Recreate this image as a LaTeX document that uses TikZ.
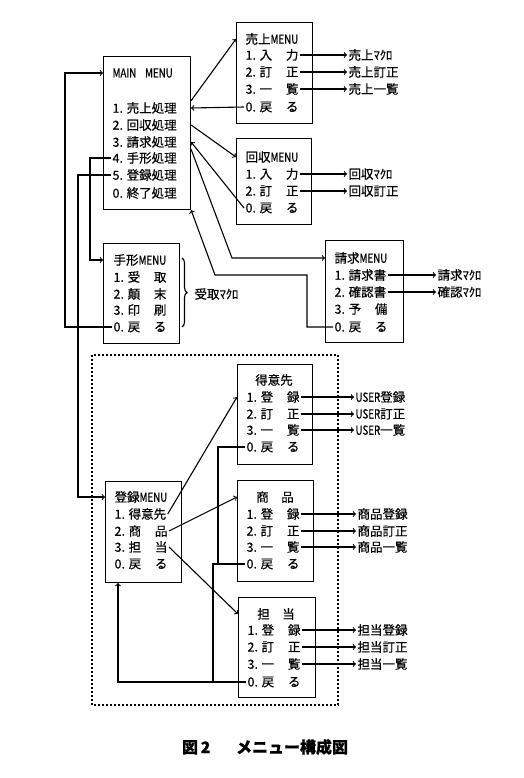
\documentclass[tikz,border=0pt]{standalone}
\usepackage{fontspec}
\setmainfont{Noto Sans CJK JP}[FakeBold=0.5]
\usepackage{graphicx}
\usepackage{tikz}
\usetikzlibrary{decorations.pathreplacing}
\tikzset{
Boite/.style={
 draw=black, 
 anchor=north west, 
 inner sep=0pt
 },
Item/.style={
 anchor=west, 
 inner sep=1pt, 
 font=\fontsize{12.5}{15}\selectfont
 },
Titre/.style={
 Item, 
 anchor=center
 },
Sortie/.style={
 Item
 },
Fleche/.style={
 draw=black, 
 ->
 },
Tiret/.style={
 draw=black, 
 dash pattern=on 2pt off 2pt
 }
}
\newcommand{\Ecart}[2]{\makebox[3.1em][s]{#1\hfill#2}}
\newcommand{\Serre}[1]{\scalebox{0.78}[1]{#1}}

\begin{document}
\begin{tikzpicture}[line width=1.1pt,x=1pt,y=-1pt]
\useasboundingbox (0,0) rectangle (524,778);
% MAIN MENU
\node[Boite, minimum width=87pt, minimum height=153pt] (main) at (103,56) {};
\node[Item] (mainT) at (111,73) {\Serre{MAIN\hspace{0.9em}MENU}};
\node[Item] (main1) at (111,108) {1. 売上処理};
\node[Item] (main2) at (111,125) {2. 回収処理};
\node[Item] (main3) at (111,142) {3. 請求処理};
\node[Item] (main4) at (111,158) {4. 手形処理};
\node[Item] (main5) at (111,175) {5. 登録処理};
\node[Item] (main0) at (111,193) {0. 終了処理};
% 売上
\node[Boite, minimum width=76pt, minimum height=101pt] (uri) at (236,22) {};
\node[Item] (uriT) at (244,39) {売上\Serre{MENU}};
\node[Item] (uri1) at (244,55) {1. \Ecart{入}{力}};
\node[Item] (uri2) at (244,72) {2. \Ecart{訂}{正}};
\node[Item] (uri3) at (244,89) {3. \Ecart{一}{覧}};
\node[Item] (uri0) at (244,107) {0. \Ecart{戻}{る}};
\node[Sortie] (uriO1) at (347,55) {売上ﾏｸﾛ};
\node[Sortie] (uriO2) at (347,72) {売上訂正};
\node[Sortie] (uriO3) at (347,89) {売上一覧};
% 回収
\node[Boite, minimum width=75pt, minimum height=86pt] (kai) at (236,138) {};
\node[Item] (kaiT) at (244,157) {回収\Serre{MENU}};
\node[Item] (kai1) at (244,174) {1. \Ecart{入}{力}};
\node[Item] (kai2) at (244,191) {2. \Ecart{訂}{正}};
\node[Item] (kai0) at (244,208) {0. \Ecart{戻}{る}};
\node[Sortie] (kaiO1) at (347,174) {回収ﾏｸﾛ};
\node[Sortie] (kaiO2) at (347,191) {回収訂正};
% 請求
\node[Boite, minimum width=78pt, minimum height=102pt] (sei) at (325,240) {};
\node[Item] (seiT) at (333,258) {請求\Serre{MENU}};
\node[Item] (sei1) at (333,275) {1. 請求書};
\node[Item] (sei2) at (333,292) {2. 確認書};
\node[Item] (sei3) at (333,309) {3. \Ecart{予}{備}};
\node[Item] (sei0) at (333,327) {0. \Ecart{戻}{る}};
\node[Sortie] (seiO1) at (436,275) {請求ﾏｸﾛ};
\node[Sortie] (seiO2) at (436,292) {確認ﾏｸﾛ};
% 手形
\node[Boite, minimum width=76pt, minimum height=100pt] (tega) at (103,243) {};
\node[Item] (tegaT) at (112,260) {手形\Serre{MENU}};
\node[Item] (tega1) at (112,277) {1. \Ecart{受}{取}};
\node[Item] (tega2) at (112,294) {2. \Ecart{顛}{末}};
\node[Item] (tega3) at (112,310) {3. \Ecart{印}{刷}};
\node[Item] (tega0) at (112,327) {0. \Ecart{戻}{る}};
\draw[decorate, decoration={brace, amplitude=5pt}] (182,258) -- (182,327);
\node[Sortie] (tegaO) at (193,294) {受取ﾏｸﾛ};
% 登録
\draw[Tiret] (92,355) rectangle (338,705);
\node[Boite, minimum width=76pt, minimum height=101pt] (tou) at (105,481) {};
\node[Item] (touT) at (113,497) {登録\Serre{MENU}};
\node[Item] (tou1) at (113,514) {1. 得意先};
\node[Item] (tou2) at (113,531) {2. \Ecart{商}{品}};
\node[Item] (tou3) at (113,547) {3. \Ecart{担}{当}};
\node[Item] (tou0) at (113,564) {0. \Ecart{戻}{る}};
% 得意先
\node[Boite, minimum width=75pt, minimum height=100pt] (toku) at (237,364) {};
\node[Titre] (tokuT) at (274,380) {得意先};
\node[Item] (toku1) at (245,397) {1. \Ecart{登}{録}};
\node[Item] (toku2) at (245,414) {2. \Ecart{訂}{正}};
\node[Item] (toku3) at (245,430) {3. \Ecart{一}{覧}};
\node[Item] (toku0) at (245,447) {0. \Ecart{戻}{る}};
\node[Sortie] (tokuO1) at (354,397) {\Serre{USER}登録};
\node[Sortie] (tokuO2) at (354,414) {\Serre{USER}訂正};
\node[Sortie] (tokuO3) at (354,430) {\Serre{USER}一覧};
% 商品
\node[Boite, minimum width=76pt, minimum height=101pt] (sho) at (237,480) {};
\node[Titre] (shoT) at (275,497) {商　品};
\node[Item] (sho1) at (245,514) {1. \Ecart{登}{録}};
\node[Item] (sho2) at (245,531) {2. \Ecart{訂}{正}};
\node[Item] (sho3) at (245,547) {3. \Ecart{一}{覧}};
\node[Item] (sho0) at (245,564) {0. \Ecart{戻}{る}};
\node[Sortie] (shoO1) at (356,514) {商品登録};
\node[Sortie] (shoO2) at (356,531) {商品訂正};
\node[Sortie] (shoO3) at (356,547) {商品一覧};
% 担当
\node[Boite, minimum width=77pt, minimum height=100pt] (tan) at (238,597) {};
\node[Titre] (tanT) at (276,614) {担　当};
\node[Item] (tan1) at (246,630) {1. \Ecart{登}{録}};
\node[Item] (tan2) at (246,647) {2. \Ecart{訂}{正}};
\node[Item] (tan3) at (246,664) {3. \Ecart{一}{覧}};
\node[Item] (tan0) at (246,682) {0. \Ecart{戻}{る}};
\node[Sortie] (tanO1) at (356,630) {担当登録};
\node[Sortie] (tanO2) at (356,647) {担当訂正};
\node[Sortie] (tanO3) at (356,664) {担当一覧};
% coudes
\coordinate (kSei) at (232,258);
\coordinate (fSei) at (307,275);
\coordinate (gSei) at (215,275);
\coordinate (gTega) at (90,260);
\coordinate (gTou) at (78,497);
\coordinate (gRet) at (65,73);
\coordinate (bToku) at (218,564);
\coordinate (bSho) at (213,682);
\coordinate (bTan) at (118,682);
% liaisons
\draw[Fleche] (main.east |- main1.north) -- (uri.west |- uriT);
\draw[Fleche] (uri0.west) -- (main.east |- main1);
\draw[Fleche] (main.east |- main2) -- (kai.west |- kaiT);
\draw[Fleche] (kai0.west) -- (main.east |- main3);
\draw[Fleche] (main.east |- main3.south) -- (kSei) -- (sei.west |- seiT);
\draw[Fleche] (sei0.west) -| (fSei) -- (gSei) -- (main.south east);
\draw[Fleche] (main4.west) -| (gTega) -- (tega.west |- tegaT);
\draw[Fleche] (main5.west) -| (gTou) -- (tou.west |- touT);
\draw[Fleche] (tega0.west) -| (gRet) -- (main.west |- mainT);
\draw[Fleche] (tou1.east) -- (toku.west |- toku1);
\draw[Fleche] (tou2.east) -- (sho.west |- shoT);
\draw[Fleche] (tou3.east) -- (tan.west |- tanT);
\draw (toku0.west) -| (bToku);
\draw (sho0.west) -| (bSho);
\draw[Fleche] (tan0.west) -- (bTan) -- (bTan |- tou.south);
% sorties
\draw[Fleche] (uri1.east) -- (uriO1.west);
\draw[Fleche] (uri2.east) -- (uriO2.west);
\draw[Fleche] (uri3.east) -- (uriO3.west);
\draw[Fleche] (kai1.east) -- (kaiO1.west);
\draw[Fleche] (kai2.east) -- (kaiO2.west);
\draw[Fleche] (sei1.east) -- (seiO1.west);
\draw[Fleche] (sei2.east) -- (seiO2.west);
\draw[Fleche] (toku1.east) -- (tokuO1.west);
\draw[Fleche] (toku2.east) -- (tokuO2.west);
\draw[Fleche] (toku3.east) -- (tokuO3.west);
\draw[Fleche] (sho1.east) -- (shoO1.west);
\draw[Fleche] (sho2.east) -- (shoO2.west);
\draw[Fleche] (sho3.east) -- (shoO3.west);
\draw[Fleche] (tan1.east) -- (tanO1.west);
\draw[Fleche] (tan2.east) -- (tanO2.west);
\draw[Fleche] (tan3.east) -- (tanO3.west);
% legende
\node[font=\fontsize{16}{18}\selectfont\bfseries] (legende) at (265,747) {図\,2\hspace{1.6em}メニュー構成図};
\end{tikzpicture}
\end{document}
